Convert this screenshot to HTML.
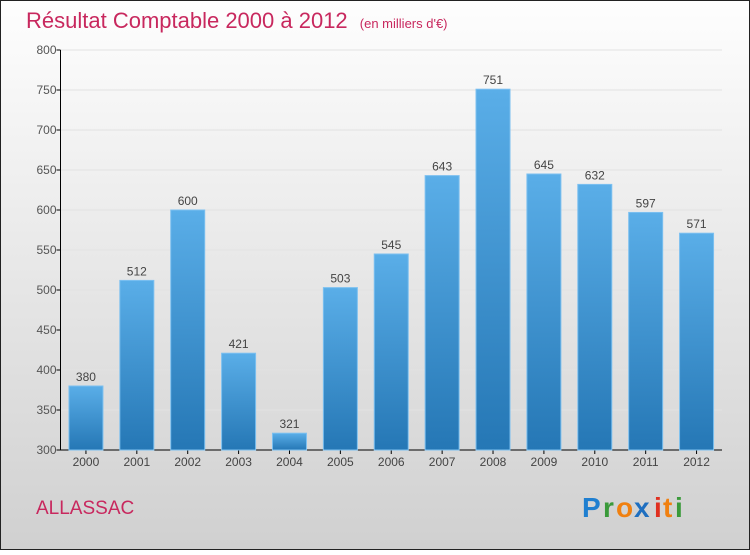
<!DOCTYPE html>
<html><head><meta charset="utf-8"><style>
body{margin:0;width:750px;height:550px;overflow:hidden;font-family:"Liberation Sans",sans-serif}
</style></head><body>
<svg width="750" height="550" xmlns="http://www.w3.org/2000/svg">
<defs>
<linearGradient id="bg" x1="0" y1="0" x2="0" y2="1"><stop offset="0" stop-color="#fefefe"/><stop offset="1" stop-color="#d0d0d0"/></linearGradient>
<linearGradient id="bar" x1="0" y1="0" x2="0" y2="1"><stop offset="0" stop-color="#5aaee8"/><stop offset="1" stop-color="#2577b5"/></linearGradient>
</defs>
<rect x="0.5" y="0.5" width="749" height="549" fill="url(#bg)" stroke="#222"/>
<text x="26" y="28" font-size="22" fill="#c8285e">Résultat Comptable 2000 à 2012 <tspan font-size="13" dx="6">(en milliers d'€)</tspan></text>
<g id="axes"></g>
<g id="bars"></g>
<text x="36" y="514" font-size="19" fill="#c8285e">ALLASSAC</text>
<g font-size="28" font-weight="bold" font-family="Liberation Sans, sans-serif">
<text x="582" y="517" fill="#1f7fd0">P</text><text x="603" y="517" fill="#3a9a3a">r</text><text x="616" y="517" fill="#f08010">o</text><text x="634" y="517" fill="#1f6fc0">x</text><text x="654" y="517" fill="#e03020">i</text><text x="663" y="517" fill="#f08010">t</text><text x="675" y="517" fill="#3a9a3a">i</text>
</g>
</svg>
<script>
const years=["2000","2001","2002","2003","2004","2005","2006","2007","2008","2009","2010","2011","2012"];
const values=[380,512,600,421,321,503,545,643,751,645,632,597,571];
const yTicks=[300,350,400,450,500,550,600,650,700,750,800];
const NS="http://www.w3.org/2000/svg";
const x0=60.5,x1=722,yMin=300,yMax=800,py0=450,py1=50;
const step=(x1-x0)/years.length;
function y(v){return py0-(v-yMin)/(yMax-yMin)*(py0-py1);}
function xc(i){return x0+step*(i+0.5);}
function mk(tag,attrs,parent,txt){const e=document.createElementNS(NS,tag);for(const k in attrs)e.setAttribute(k,attrs[k]);if(txt!==undefined)e.textContent=txt;parent.appendChild(e);return e;}
const ax=document.getElementById('axes'),bg=document.getElementById('bars');
yTicks.forEach(t=>{
 const g=mk('g',{},ax);
 
 
 mk('line',{x1:x0,x2:x1,y1:y(t),y2:y(t),stroke:'#e2e2e2','stroke-width':1},g);
 mk('line',{x1:x0-4,x2:x0,y1:y(t),y2:y(t),stroke:'#000'},g);
 mk('text',{x:x0-4,y:y(t)+4,'font-size':12,fill:'#555','text-anchor':'end'},g,t);
});
const yl=mk('line',{x1:x0,x2:x0,y1:py1,y2:py0,stroke:'#000'},ax);


const xl=mk('line',{x1:x0,x2:x1,y1:py0,y2:py0,stroke:'#000'},ax);


years.forEach((yr,i)=>{
 const v=values[i],c=xc(i);
 const r=mk('rect',{x:c-17,y:y(v),width:34,height:py0-y(v),fill:'url(#bar)',stroke:'#7cc0f0','stroke-width':1},bg);
 
 
 const l=mk('text',{x:c,y:y(v)-5,'font-size':12,fill:'#444','text-anchor':'middle'},bg,v);
 
 
 mk('line',{x1:c,x2:c,y1:py0,y2:py0+4,stroke:'#000'},ax);
 const t=mk('text',{x:c,y:py0+16,'font-size':12,fill:'#444','text-anchor':'middle'},ax,yr);
 
 
});
</script>
</body></html>
